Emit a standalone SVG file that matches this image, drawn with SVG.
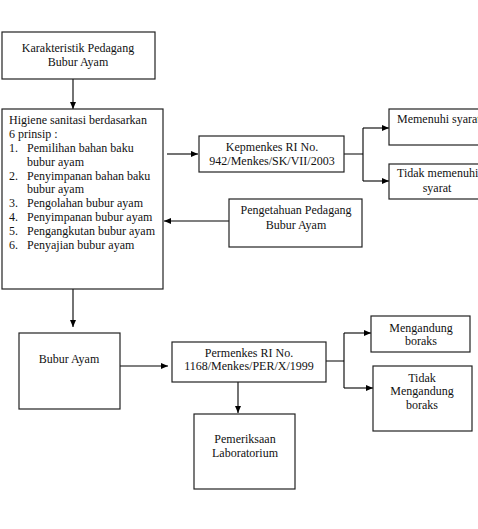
<svg xmlns="http://www.w3.org/2000/svg" width="478" height="529" viewBox="0 0 478 529">
<defs>
<marker id="arr" markerWidth="7" markerHeight="6" refX="7" refY="3" orient="auto" markerUnits="userSpaceOnUse">
<path d="M0,0 L7,3 L0,6 Z" fill="#000"/>
</marker>
<style>
.box{fill:#fff;stroke:#222;stroke-width:1.2}
.t{font-family:"Liberation Serif","Times New Roman",serif;font-size:12px;fill:#111}
.c{text-anchor:middle}
.ln{fill:none;stroke:#000;stroke-width:1.1}
</style>
</defs>
<rect width="478" height="529" fill="#fff"/>
<g id="connectors">
<path class="ln" d="M73,79 V109" marker-end="url(#arr)"/>
<path class="ln" d="M167,154 H198" marker-end="url(#arr)"/>
<path class="ln" d="M344,154 H363 M363,128 V181"/>
<path class="ln" d="M363,128 H389" marker-end="url(#arr)"/>
<path class="ln" d="M363,181 H389" marker-end="url(#arr)"/>
<path class="ln" d="M229,221 H164" marker-end="url(#arr)"/>
<path class="ln" d="M73,289 V327" marker-end="url(#arr)"/>
<path class="ln" d="M120,366 H168" marker-end="url(#arr)"/>
<path class="ln" d="M238,382 V413" marker-end="url(#arr)"/>
<path class="ln" d="M326,361 H344 M344,333 V388"/>
<path class="ln" d="M344,333 H371" marker-end="url(#arr)"/>
<path class="ln" d="M344,388 H373" marker-end="url(#arr)"/>
</g>
<g id="karakteristik">
<rect class="box" x="2" y="32" width="153" height="47"/>
<text class="t c" x="78" y="52">Karakteristik Pedagang</text>
<text class="t c" x="78" y="66">Bubur Ayam</text>
</g>
<g id="higiene">
<rect class="box" x="2" y="109" width="161" height="180"/>
<text class="t" x="9" y="124">Higiene sanitasi berdasarkan</text>
<text class="t" x="9" y="138">6 prinsip :</text>
<text class="t" x="9" y="152">1.</text><text class="t" x="27" y="152">Pemilihan bahan baku</text>
<text class="t" x="27" y="166">bubur ayam</text>
<text class="t" x="9" y="180">2.</text><text class="t" x="27" y="180">Penyimpanan bahan baku</text>
<text class="t" x="27" y="193">bubur ayam</text>
<text class="t" x="9" y="207">3.</text><text class="t" x="27" y="207">Pengolahan bubur ayam</text>
<text class="t" x="9" y="221">4.</text><text class="t" x="27" y="221">Penyimpanan bubur ayam</text>
<text class="t" x="9" y="235">5.</text><text class="t" x="27" y="235">Pengangkutan bubur ayam</text>
<text class="t" x="9" y="249">6.</text><text class="t" x="27" y="249">Penyajian bubur ayam</text>
</g>
<g id="kepmenkes">
<rect class="box" x="199" y="136" width="145" height="36"/>
<text class="t c" x="272" y="151">Kepmenkes RI No.</text>
<text class="t c" x="272" y="165">942/Menkes/SK/VII/2003</text>
</g>
<g id="memenuhi">
<rect class="box" x="389" y="109" width="100" height="36"/>
<text class="t" x="397" y="123">Memenuhi syarat</text>
</g>
<g id="tidak-memenuhi">
<rect class="box" x="389" y="164" width="100" height="35"/>
<text class="t" x="397" y="177">Tidak memenuhi</text>
<text class="t c" x="437" y="192">syarat</text>
</g>
<g id="pengetahuan">
<rect class="box" x="229" y="199" width="133" height="48"/>
<text class="t c" x="296" y="214">Pengetahuan Pedagang</text>
<text class="t c" x="296" y="229">Bubur Ayam</text>
</g>
<g id="bubur-ayam">
<rect class="box" x="19" y="333" width="101" height="76"/>
<text class="t c" x="69" y="363">Bubur Ayam</text>
</g>
<g id="permenkes">
<rect class="box" x="172" y="342" width="154" height="40"/>
<text class="t c" x="249" y="357">Permenkes RI No.</text>
<text class="t c" x="249" y="370">1168/Menkes/PER/X/1999</text>
</g>
<g id="pemeriksaan">
<rect class="box" x="194" y="414" width="101" height="75"/>
<text class="t c" x="245" y="443">Pemeriksaan</text>
<text class="t c" x="245" y="457">Laboratorium</text>
</g>
<g id="mengandung">
<rect class="box" x="371" y="316" width="99" height="36"/>
<text class="t c" x="421" y="332">Mengandung</text>
<text class="t c" x="421" y="345">boraks</text>
</g>
<g id="tidak-mengandung">
<rect class="box" x="373" y="366" width="99" height="65"/>
<text class="t c" x="422" y="382">Tidak</text>
<text class="t c" x="422" y="395">Mengandung</text>
<text class="t c" x="422" y="409">boraks</text>
</g>
</svg>
